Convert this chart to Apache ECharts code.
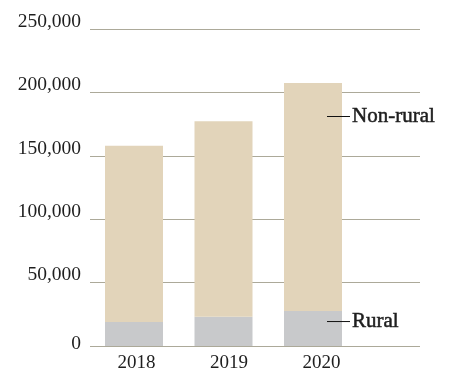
<!DOCTYPE html>
<html>
<head>
<meta charset="utf-8">
<script src="https://cdn.jsdelivr.net/npm/echarts@6/dist/echarts.min.js"></script>
<style>
html,body{margin:0;padding:0;background:#fff;}
#chart{width:459px;height:387px;}
</style>
</head>
<body>
<div id="chart"></div>
<script>
var categories = ['2018', '2019', '2020'];
var rural = [19000, 23000, 27600];
var nonRural = [139000, 154500, 180000];
var yTicks = [0, 50000, 100000, 150000, 200000, 250000];
var seriesNames = ['Rural', 'Non-rural'];

var FONT = '"Liberation Serif", "DejaVu Serif", serif';
var TEXT = '#1e1e1e';
var GRID = '#aca999';
var lastIdx = categories.length - 1;

function fmt(v) {
  return v.toString().replace(/\B(?=(\d{3})+(?!\d))/g, ',');
}

function endLabel(name, pos) {
  return {
    show: true,
    position: pos,
    align: 'left',
    verticalAlign: 'middle',
    formatter: '{l|}{t|' + name + '}',
    rich: {
      l: { width: 23, height: 1, backgroundColor: '#111', verticalAlign: 'middle' },
      t: {
        fontFamily: FONT, fontSize: 21, fontWeight: 'normal', color: TEXT,
        textBorderColor: TEXT, textBorderWidth: 0.5, padding: [0, 0, 0, 2]
      }
    }
  };
}

function withEndLabel(values, name, pos) {
  return values.map(function (v, i) {
    if (i === lastIdx) return { value: v, label: endLabel(name, pos) };
    return v;
  });
}

var chart = echarts.init(document.getElementById('chart'), null, { renderer: 'canvas' });
chart.setOption({
  animation: false,
  backgroundColor: '#ffffff',
  grid: [
    { left: 90, right: 39, top: 29.3, bottom: 41 },
    { left: 89.25, width: 268.5, top: 29.3, bottom: 41 },
    { left: 90.25, width: 277.5, top: 29.3, bottom: 41 }
  ],
  xAxis: [
    { gridIndex: 0, type: 'category', data: categories, show: false },
    { gridIndex: 1, type: 'category', data: categories, show: false },
    {
      gridIndex: 2, type: 'category', data: categories,
      axisLine: { show: false }, axisTick: { show: false },
      axisLabel: { margin: 8, fontFamily: FONT, fontSize: 19, color: TEXT }
    }
  ],
  yAxis: [
    {
      gridIndex: 0, type: 'value', min: yTicks[0], max: yTicks[yTicks.length - 1], interval: yTicks[1] - yTicks[0],
      axisLine: { show: false }, axisTick: { show: false },
      splitLine: { show: true, lineStyle: { color: GRID, width: 1 } },
      axisLabel: {
        margin: 9,
        formatter: function (v) { return v === 0 ? '{z|0}' : '{n|' + fmt(v) + '}'; },
        rich: {
          n: { fontFamily: FONT, fontSize: 19.5, color: TEXT, padding: [0, 0, 15, 0] },
          z: { fontFamily: FONT, fontSize: 19.5, color: TEXT, padding: [0, 0, 4, 0] }
        }
      }
    },
    { gridIndex: 1, type: 'value', min: yTicks[0], max: yTicks[yTicks.length - 1], show: false, splitLine: { show: false } },
    { gridIndex: 2, type: 'value', min: yTicks[0], max: yTicks[yTicks.length - 1], show: false, splitLine: { show: false } }
  ],
  series: [
    {
      name: seriesNames[0], type: 'bar', stack: 'total', xAxisIndex: 1, yAxisIndex: 1,
      barWidth: 58, itemStyle: { color: '#c8c9cb' },
      data: withEndLabel(rural, seriesNames[0], [43, 10.5])
    },
    {
      name: seriesNames[1], type: 'bar', stack: 'total', xAxisIndex: 1, yAxisIndex: 1,
      barWidth: 58, itemStyle: { color: '#e2d4ba' },
      data: withEndLabel(nonRural, seriesNames[1], [43, 33.5])
    }
  ]
});
</script>
</body>
</html>
